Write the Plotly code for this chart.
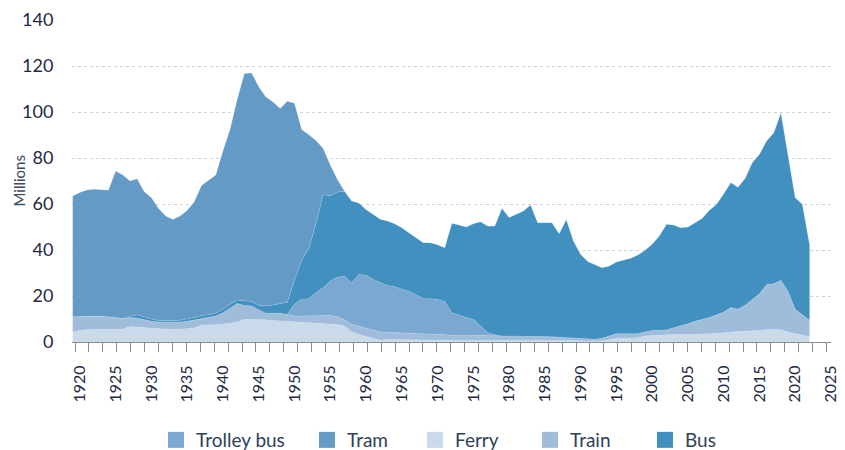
import plotly.graph_objects as go

years = list(range(1919, 2023))

ferry = [4.3, 5.0, 5.3, 5.5, 5.5, 5.5, 5.5, 5.6, 6.7, 6.4,
         6.1, 6.0, 5.8, 5.6, 5.5, 5.6, 5.8, 6.1, 7.4, 7.4,
         7.5, 7.8, 8.2, 8.6, 9.9, 9.9, 9.9, 9.7, 9.4, 9.2,
         9.1, 9.0, 8.8, 8.5, 8.5, 8.3, 8.0, 7.6, 7.0, 4.5,
         3.3, 2.4, 1.5, 0.8, 1.1, 1.1, 1.0, 1.0, 1.0, 1.0,
         1.0, 1.0, 0.8, 0.7, 0.7, 0.7, 0.7, 0.7, 0.7, 0.7,
         0.7, 0.7, 1.0, 1.0, 1.0, 1.0, 1.0, 0.7, 0.7, 0.7,
         0.6, 0.4, 0.3, 0.3, 0.5, 1.0, 1.5, 1.6, 1.7, 1.9,
         2.6, 2.9, 3.0, 3.1, 3.1, 3.2, 3.3, 3.4, 3.5, 3.6,
         3.8, 4.0, 4.3, 4.4, 4.5, 4.8, 5.0, 5.4, 5.5, 5.3,
         4.3, 3.6, 3.0, 2.3]

train = [6.7, 6.2, 6.0, 5.8, 5.7, 5.5, 5.1, 4.6, 3.9, 4.0,
         3.5, 3.0, 2.9, 3.0, 3.1, 3.1, 3.2, 3.5, 2.8, 3.2,
         3.8, 4.9, 6.6, 8.1, 6.0, 5.8, 4.1, 2.8, 3.1, 3.3,
         2.9, 2.3, 2.5, 2.8, 3.1, 3.3, 3.5, 3.4, 2.6, 3.2,
         3.5, 3.6, 3.7, 3.6, 3.1, 3.0, 2.9, 2.6, 2.5, 2.4,
         2.3, 2.4, 2.4, 2.1, 1.9, 2.0, 2.2, 2.1, 1.9, 1.9,
         1.9, 1.9, 1.6, 1.6, 1.6, 1.5, 1.4, 1.6, 1.4, 1.2,
         1.0, 0.9, 0.9, 0.9, 1.1, 1.6, 2.1, 2.0, 1.9, 1.7,
         1.8, 2.1, 2.1, 2.1, 3.1, 3.8, 4.6, 5.6, 6.3, 7.0,
         8.0, 9.0, 10.7, 9.8, 11.5, 13.7, 16.0, 19.6, 19.8, 21.5,
         17.7, 10.6, 9.0, 7.2]

trolley = [0] * 31 + [
           5.2, 7.3, 7.5, 9.9, 11.9, 15.0, 17.2, 19.0, 17.9,
           22.5, 23.0, 22.0, 21.4, 20.4, 19.9, 19.1, 18.4, 17.0, 15.4,
           15.5, 15.1, 14.4, 9.9, 9.1, 7.9, 7.0, 4.2, 1.5, 0.6] + [0] * 44

bus = [0] * 8 + [
       0.6, 1.4, 1.2, 1.0, 0.7, 0.7, 0.7, 0.8, 0.9, 1.0, 1.3, 1.2,
       1.3, 1.5, 1.6, 1.6, 2.0, 1.9, 2.0, 3.1, 3.6, 4.3,
       5.3, 10.3, 17.0, 21.7, 30.0, 40.5, 37.1, 37.0, 36.9, 35.7,
       31.1, 28.6, 28.3, 27.6, 28.0, 27.4, 26.7, 25.5, 24.6, 24.4,
       24.4, 23.8, 23.4, 38.9, 39.2, 39.4, 41.5, 45.3, 46.3, 47.2,
       55.5, 51.5, 52.9, 54.4, 57.0, 49.4, 49.5, 49.6, 45.0, 51.4,
       42.3, 36.8, 33.8, 32.6, 30.7, 30.4, 31.2, 32.0, 32.8, 34.2,
       35.5, 37.5, 41.0, 46.0, 44.7, 42.7, 42.1, 42.9, 44.0, 46.7,
       48.1, 51.5, 54.3, 53.1, 55.2, 59.5, 60.6, 62.4, 65.7, 72.9,
       58.5, 48.5, 47.9, 33.0]

tram = [52.5, 53.8, 54.8, 55.1, 55.0, 55.0, 63.7, 62.4, 58.8, 59.2,
        54.5, 52.7, 48.6, 45.5, 44.0, 45.3, 47.3, 50.4, 56.5, 58.6,
        60.0, 68.8, 76.1, 87.2, 98.8, 99.4, 95.0, 90.9, 88.2, 84.7,
        87.4, 77.0, 56.8, 49.6, 36.1, 20.2, 13.4, 5.5] + [0] * 66

x_tick_years = list(range(1920, 2030, 5))
x_tick_labels = [str(y) for y in x_tick_years]
y_ticks = [0, 20, 40, 60, 80, 100, 120, 140]

colors = {
    "Ferry": "#C9DAEB",
    "Train": "#9FBCDB",
    "Trolley bus": "#7BA8D0",
    "Bus": "#4290C0",
    "Tram": "#649AC6",
}

stack = [("Ferry", ferry), ("Train", train), ("Trolley bus", trolley),
         ("Bus", bus), ("Tram", tram)]

fig = go.Figure()
for name, vals in stack:
    fig.add_trace(go.Scatter(
        x=years, y=vals, name=name, stackgroup="one", mode="lines",
        line=dict(width=0.6, color="rgba(255,255,255,0.25)"),
        fillcolor=colors[name], showlegend=False, hoverinfo="x+y+name"))

# page has an 8px body margin: figure coordinates = page coordinates - 8
OFF = 8
W, H = 845 - OFF, 450 - OFF
legend_order = ["Trolley bus", "Tram", "Ferry", "Train", "Bus"]
legend_left_px = [156 - OFF, 307 - OFF, 415 - OFF, 530 - OFF, 645 - OFF]
plot_l, plot_w = 72 - OFF, 759
plot_t, plot_h = 20 - OFF, 322

legend_ids = ["legend", "legend2", "legend3", "legend4", "legend5"]
for i, name in enumerate(legend_order):
    fig.add_trace(go.Scatter(
        x=[None], y=[None], mode="markers", name=name,
        marker=dict(symbol="square", size=16, color=colors[name]),
        legend=legend_ids[i], showlegend=True))

legend_y = (plot_t + plot_h - (440 - OFF)) / plot_h
leg_kwargs = {}
for i, lid in enumerate(legend_ids):
    leg_kwargs[lid] = dict(
        x=(legend_left_px[i] - plot_l) / plot_w, xanchor="left",
        y=legend_y, yanchor="middle", orientation="h",
        font=dict(family="Lato", size=19, color="#2E3F58"),
        bgcolor="rgba(0,0,0,0)", borderwidth=0)

fig.update_layout(
    width=W, height=H,
    margin=dict(l=plot_l, r=W - plot_l - plot_w, t=plot_t,
                b=H - plot_t - plot_h, autoexpand=False),
    paper_bgcolor="white", plot_bgcolor="white",
    font=dict(family="Lato", color="#1E2A44"),
    showlegend=True,
    **leg_kwargs,
    xaxis=dict(
        range=[1918.9, 2025.0], tickmode="array",
        tickvals=x_tick_years, ticktext=x_tick_labels,
        tickangle=-90, ticks="outside", ticklen=16,
        tickcolor="rgba(0,0,0,0)", automargin=False,
        tickfont=dict(family="Lato", size=16, color="#1E2A44"),
        showgrid=False, zeroline=False,
        showline=True, linecolor="#8C8C8C", linewidth=1,
        minor=dict(ticks="outside", ticklen=9, tickwidth=1,
                   tickcolor="#8C8C8C", tick0=1919.32, dtick=1.9455,
                   showgrid=False),
    ),
    yaxis=dict(
        range=[0, 140], tickmode="array", tickvals=y_ticks,
        ticks="outside", ticklen=14, tickcolor="rgba(0,0,0,0)",
        automargin=False,
        tickfont=dict(family="Lato", size=18, color="#1E2A44"),
        showgrid=True, gridcolor="#D0D0D0", gridwidth=1,
        griddash="3px,3px", zeroline=False, showline=False,
    ),
    annotations=[dict(
        text="Millions", xref="paper", yref="paper",
        x=(18.5 - OFF - plot_l) / plot_w, y=0.5, showarrow=False,
        xanchor="center", yanchor="middle",
        textangle=-90, font=dict(family="Lato", size=15, color="#3D4B63"))],
)

fig.write_html("out.html")
